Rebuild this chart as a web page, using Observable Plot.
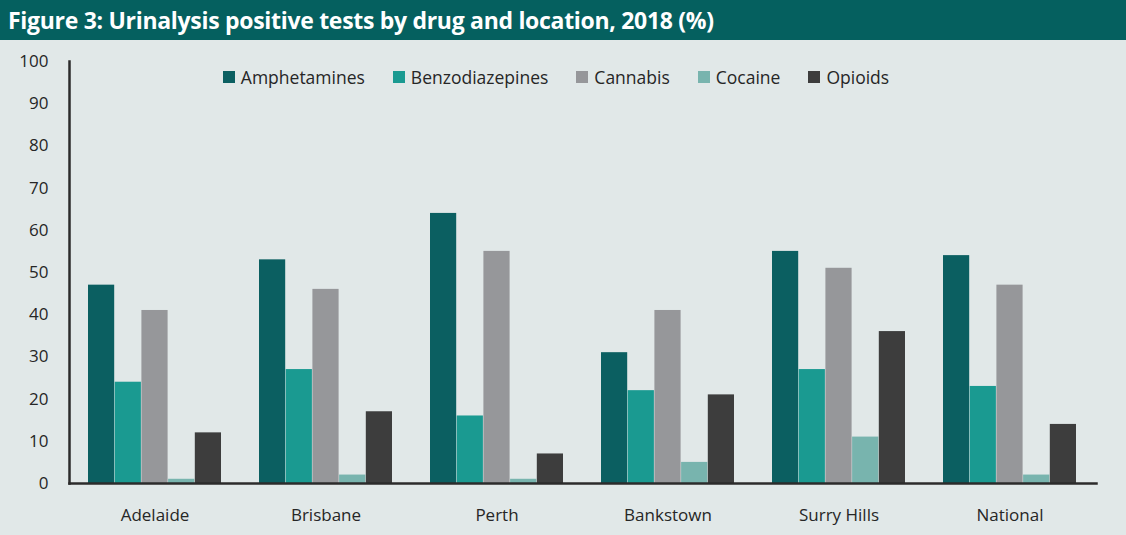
<!DOCTYPE html>
<html>
<head>
<meta charset="utf-8">
<script src="https://cdn.jsdelivr.net/npm/d3@7"></script>
<script src="https://cdn.jsdelivr.net/npm/@observablehq/plot@0.6"></script>
<style>
  html, body { margin: 0; padding: 0; background: #e1e8e8; }
  #wrap { position: relative; width: 1126px; height: 535px; background: #e1e8e8; font-family: "Open Sans", sans-serif; }
  #title { height: 40px; background: #05605f; color: #fff; font-weight: 700; font-size: 23px; line-height: 40px; padding-left: 8px; box-sizing: border-box; white-space: nowrap; letter-spacing: -0.3px; }
  #legend { position: absolute; top: 65px; left: 0; width: 1126px; display: flex; justify-content: center; padding-right: 14px; box-sizing: border-box; font-size: 17.5px; color: #262626; }
  .item { display: flex; align-items: center; margin: 0 14px; }
  .sw { width: 12px; height: 12px; margin-right: 6px; }
</style>
</head>
<body>
<div id="wrap">
  <div id="title">Figure 3: Urinalysis positive tests by drug and location, 2018 (%)</div>
  <div id="legend"></div>
  <div id="chart"></div>
</div>
<script>
const locations = ["Adelaide", "Brisbane", "Perth", "Bankstown", "Surry Hills", "National"];
const drugs = ["Amphetamines", "Benzodiazepines", "Cannabis", "Cocaine", "Opioids"];
const colors = ["#0b5f61", "#1a9a91", "#96979a", "#78b4ae", "#3d3d3d"];
const amphetamines    = [47, 53, 64, 31, 55, 54];
const benzodiazepines = [24, 27, 16, 22, 27, 23];
const cannabis        = [41, 46, 55, 41, 51, 47];
const cocaine         = [1, 2, 1, 5, 11, 2];
const opioids         = [12, 17, 7, 21, 36, 14];
const yTicks = [0, 10, 20, 30, 40, 50, 60, 70, 80, 90, 100];

const series = [amphetamines, benzodiazepines, cannabis, cocaine, opioids];
const data = [];
locations.forEach((loc, i) => drugs.forEach((d, j) => data.push({location: loc, drug: d, value: series[j][i]})));

// legend
const legend = document.getElementById("legend");
drugs.forEach((d, j) => {
  const it = document.createElement("div");
  it.className = "item";
  it.innerHTML = `<span class="sw" style="background:${colors[j]}"></span><span>${d}</span>`;
  legend.appendChild(it);
});

const width = 1126, height = 495;
const marginLeft = 69, marginRight = 30;
const paddingInner = 0.22, paddingOuter = 0.11;
const step = (width - marginLeft - marginRight) / (locations.length - paddingInner + 2 * paddingOuter);
const bandwidth = step * (1 - paddingInner);
const slot = bandwidth / drugs.length;

const barMarks = drugs.map((d, j) => Plot.barY(data.filter(r => r.drug === d), {
  x: "location", y: "value", fill: colors[j],
  insetLeft: j * slot, insetRight: (drugs.length - 1 - j) * slot
}));

const chart = Plot.plot({
  width, height,
  marginLeft, marginRight, marginTop: 21, marginBottom: 52,
  style: { background: "transparent", fontFamily: "Open Sans, sans-serif", fontSize: "17px", color: "#262626" },
  x: { domain: locations, paddingInner, paddingOuter, align: 0.5, axis: null },
  y: { domain: [0, 100], axis: null },
  marks: [
    ...barMarks,
    Plot.axisY({ ticks: yTicks, tickSize: 0, tickPadding: 21, fontSize: 17, label: null }),
    Plot.axisX({ tickSize: 0, tickPadding: 25, fontSize: 17, label: null }),
    Plot.frame({ anchor: "left", stroke: "#2b2b2b", strokeWidth: 2.5 }),
    Plot.frame({ anchor: "bottom", stroke: "#2b2b2b", strokeWidth: 2.5 })
  ]
});
document.getElementById("chart").appendChild(chart);
</script>
</body>
</html>
